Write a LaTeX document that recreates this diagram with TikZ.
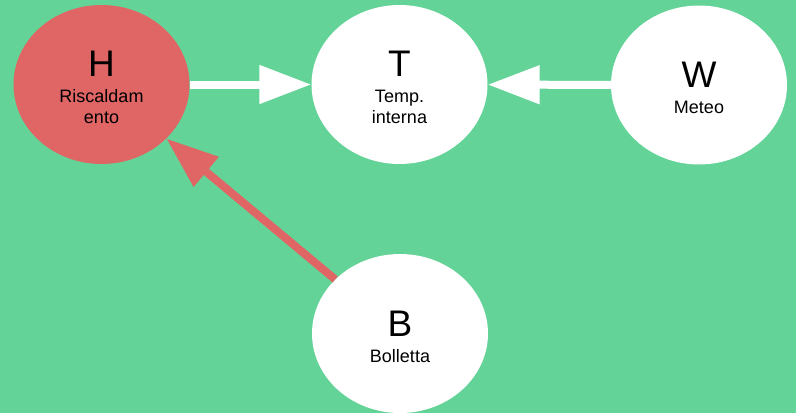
\documentclass[tikz,border=0pt]{standalone}
\usepackage{fontspec}
\setmainfont{Liberation Sans}
\usetikzlibrary{arrows.meta,shapes.geometric}
\definecolor{bggreen}{RGB}{100,211,152}
\definecolor{nodered}{RGB}{224,102,102}
\newcommand{\varletter}[1]{{\fontsize{37}{40}\selectfont\rule{0pt}{32pt}#1}\\[5pt]}

\begin{document}
\begin{tikzpicture}[x=1pt,y=-1pt,
  varnode/.style={ellipse,fill=white,minimum width=176pt,minimum height=159pt,
    inner sep=0pt,align=center,font=\fontsize{18}{21}\selectfont},
  causearrow/.style={line width=8pt,-{Triangle[length=52pt,width=37pt]}}]
\useasboundingbox (0,0) rectangle (796,413);
\fill[bggreen] (0,0) rectangle (796,413);

% Nodes
\node[varnode,fill=nodered] (H) at (101.5,84.5) {\varletter{H}Riscaldam\\ento};
\node[varnode] (T) at (399.5,84.5) {\varletter{T}Temp.\\interna};
\node[varnode] (W) at (699,85) {\varletter{W}Meteo};
\node[varnode] (B) at (400,333.5) {\varletter{B}Bolletta};

% Arrows
\draw[causearrow,white] (H) -- (T);
\draw[causearrow,white] (W) -- (T);
\draw[causearrow,nodered] (B) -- (H);

\end{tikzpicture}
\end{document}
